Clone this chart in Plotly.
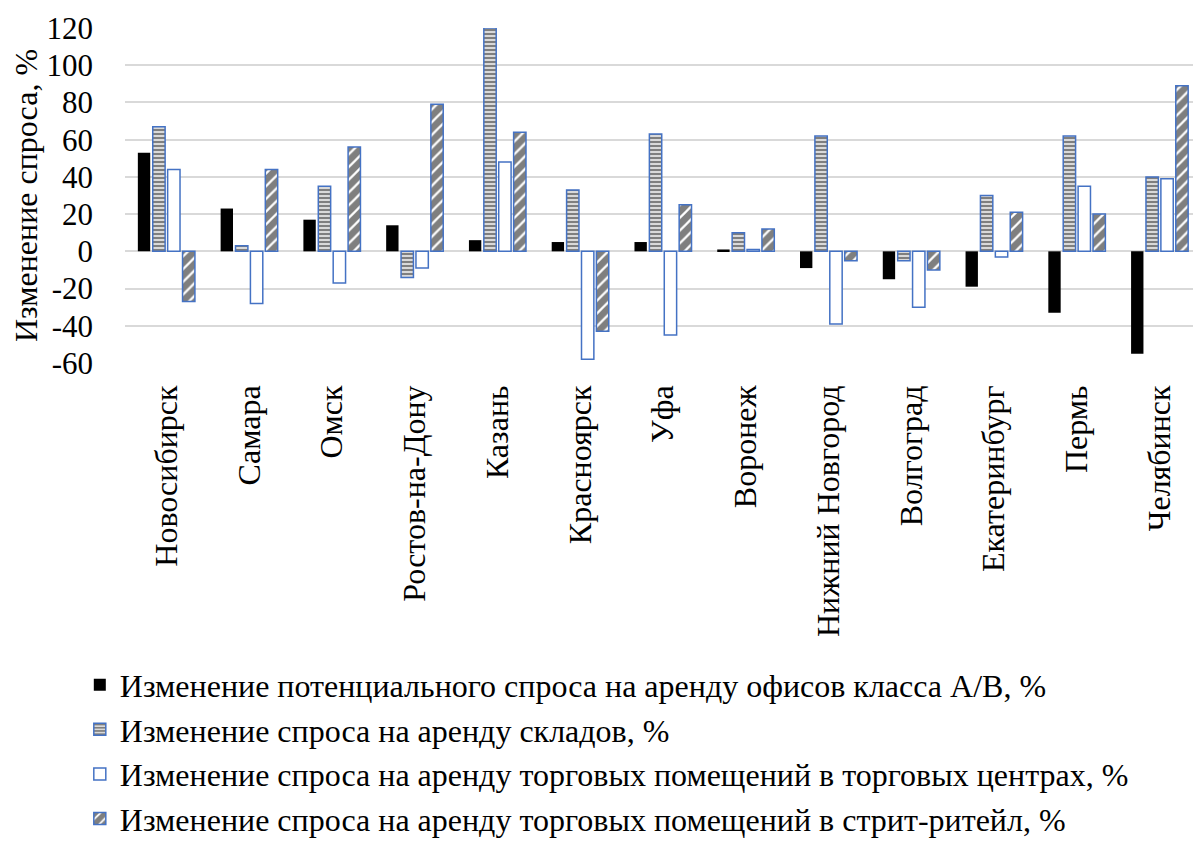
import plotly.graph_objects as go

cities = ["Новосибирск", "Самара", "Омск", "Ростов-на-Дону", "Казань", "Красноярск", "Уфа",
          "Воронеж", "Нижний Новгород", "Волгоград", "Екатеринбург", "Пермь", "Челябинск"]
offices = [53, 23, 17, 14, 6, 5, 5, 1, -9, -15, -19, -33, -55]
warehouses = [67, 3, 35, -14, 120, 33, 63, 10, 62, -5, 30, 62, 40]
mall_retail = [44, -28, -17, -9, 48, -58, -45, 1, -39, -30, -3, 35, 39]
street_retail = [-27, 44, 56, 79, 64, -43, 25, 12, -5, -10, 21, 20, 89]

y_tick_values = [-60, -40, -20, 0, 20, 40, 60, 80, 100, 120]
y_tick_labels = ["-60", "-40", "-20", "0", "20", "40", "60", "80", "100", "120"]

names = ["Изменение потенциального спроса на аренду офисов класса А/В, %",
         "Изменение спроса на аренду складов, %",
         "Изменение спроса на аренду торговых помещений в торговых центрах, %",
         "Изменение спроса на аренду торговых помещений в стрит-ритейл, %"]

BLUE = "#4472C4"
FONT = "Liberation Serif"
FS = 32

fig = go.Figure()
fig.add_trace(go.Bar(x=cities, y=offices, name=names[0], legendgroup="a",
                     marker=dict(color="black", line=dict(color="black", width=0))))
fig.add_trace(go.Bar(x=cities, y=warehouses, name=names[1], legendgroup="b",
                     marker=dict(color="white", line=dict(color=BLUE, width=1.5),
                                 pattern=dict(shape="-", fgcolor="black", bgcolor="white",
                                              size=4, solidity=0.65, fillmode="overlay"))))
fig.add_trace(go.Bar(x=cities, y=mall_retail, name=names[2], legendgroup="c",
                     marker=dict(color="white", line=dict(color=BLUE, width=1.5))))
fig.add_trace(go.Bar(x=cities, y=street_retail, name=names[3], legendgroup="d",
                     marker=dict(color="white", line=dict(color=BLUE, width=1.5),
                                 pattern=dict(shape="/", fgcolor="black", bgcolor="white",
                                              size=9, solidity=0.75, fillmode="overlay"))))

fig.update_layout(
    width=1193, height=837,
    paper_bgcolor="white", plot_bgcolor="white",
    barmode="group", bargap=0.28, bargroupgap=0.17,
    margin=dict(l=117, r=0, t=20, b=482, autoexpand=False),
    font=dict(family=FONT, size=FS, color="black"),
    showlegend=True,
    legend=dict(orientation="v", x=-0.042, xanchor="left", y=-0.879, yanchor="top",
                font=dict(family=FONT, size=FS, color="black"),
                tracegroupgap=2, traceorder="normal"),
    xaxis=dict(tickangle=-90, showgrid=False, showline=False, ticks="", automargin=False,
               ticklabelstandoff=15, tickfont=dict(family=FONT, size=FS)),
    yaxis=dict(range=[-60, 120], tickvals=y_tick_values, ticktext=y_tick_labels,
               showgrid=True, gridcolor="#d9d9d9", gridwidth=1.5,
               zeroline=True, zerolinecolor="#d9d9d9", zerolinewidth=1.5, automargin=False,
               showline=False, ticks="", ticklabelstandoff=31, tickfont=dict(family=FONT, size=31),
               title=dict(text="Изменение спроса, %", font=dict(family=FONT, size=FS), standoff=15)),
)

fig.write_html("out.html")
